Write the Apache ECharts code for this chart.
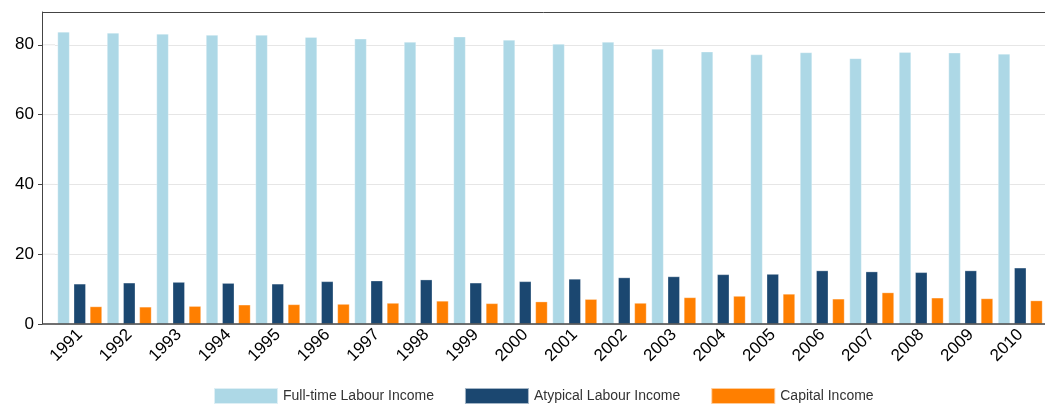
<!DOCTYPE html><html><head><meta charset="utf-8"><script src="https://cdn.jsdelivr.net/npm/echarts@6/dist/echarts.min.js"></script></head><body style="margin:0"><div id="c" style="width:1045px;height:412px"></div><script>
const years=['1991','1992','1993','1994','1995','1996','1997','1998','1999','2000','2001','2002','2003','2004','2005','2006','2007','2008','2009','2010'];
const fullTime=[83.7,83.4,83.1,82.8,82.8,82.2,81.7,80.8,82.3,81.4,80.2,80.8,78.8,78.0,77.2,77.8,76.1,77.9,77.7,77.4];
const atypical=[11.5,11.8,12.0,11.7,11.5,12.2,12.4,12.7,11.8,12.2,12.9,13.3,13.6,14.2,14.3,15.3,15.0,14.8,15.3,16.1];
const capital=[5.0,4.9,5.1,5.5,5.6,5.7,6.0,6.6,5.9,6.4,7.1,6.0,7.6,8.0,8.6,7.2,9.0,7.5,7.3,6.7];
const ch=echarts.init(document.getElementById('c'));
const mk=(n,d,c)=>({name:n,type:'bar',data:d,barWidth:12,barGap:'35%',itemStyle:{color:c,borderColor:'rgba(255,255,255,0.6)',borderWidth:0.5}});
const gl=[0,20,40,60,80].map(v=>({type:'line',shape:{x1:43,y1:324-v*3.4899,x2:55,y2:324-v*3.4899},style:{stroke:'#e6e6e6',lineWidth:1},silent:true}));
ch.setOption({animation:false,
grid:{left:55,right:-2,top:12,bottom:88},
graphic:[...gl,{type:'line',shape:{x1:42,y1:12.5,x2:1045,y2:12.5},style:{stroke:'#444',lineWidth:1},z:100,silent:true},
{type:'line',shape:{x1:42,y1:324,x2:1045,y2:324},style:{stroke:'#444',lineWidth:1.5},z:100,silent:true}],
legend:{bottom:2,left:208,itemWidth:64,itemHeight:16,itemGap:30,textStyle:{fontFamily:'Liberation Sans',fontSize:14,color:'#333'},icon:'rect'},
xAxis:{type:'category',data:years,axisTick:{show:false},axisLine:{show:false},axisLabel:{rotate:45,fontFamily:'Liberation Sans',fontSize:17,color:'#000',interval:0,margin:8}},
yAxis:{type:'value',min:0,max:89.4,interval:20,offset:13,axisLabel:{showMaxLabel:false,fontFamily:'Liberation Sans',fontSize:17,color:'#000'},axisLine:{show:true,lineStyle:{color:'#444'}},axisTick:{show:true,length:4,lineStyle:{color:'#444'}},splitLine:{lineStyle:{color:'#e6e6e6'}}},
series:[mk('Full-time Labour Income',fullTime,'#add8e6'),mk('Atypical Labour Income',atypical,'#1b4770'),mk('Capital Income',capital,'#ff7f00')]});
</script></body></html>
